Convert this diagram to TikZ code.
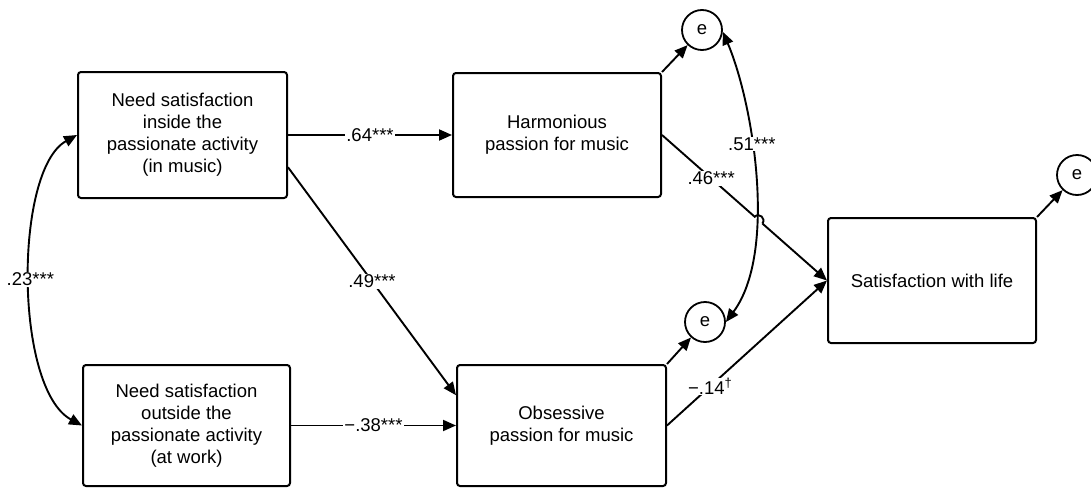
\documentclass[tikz,border=0pt]{standalone}
\usepackage{fontspec}
\setmainfont{Liberation Sans}
\usetikzlibrary{arrows.meta,calc}
\tikzset{
  >={Triangle[length=13pt,width=11pt]},
  varbox/.style={draw, line width=2pt, rounded corners=3pt, align=center, inner sep=0pt},
  errc/.style={draw, circle, line width=1.8pt, minimum size=40pt, inner sep=0pt},
  coef/.style={fill=white, inner sep=1pt},
}
\begin{document}
\begin{tikzpicture}[x=1pt, y=-1pt, line width=1.9pt, font=\fontsize{18.5}{22}\selectfont]
\useasboundingbox (0,0) rectangle (1091,487);
% observed variables
\node[varbox, minimum width=209pt, minimum height=126pt] (inmus) at (182.5,135) {Need satisfaction\\inside the\\passionate activity\\(in music)};
\node[varbox, minimum width=207pt, minimum height=121pt] (atwork) at (186.5,425.5) {Need satisfaction\\outside the\\passionate activity\\(at work)};
\node[varbox, minimum width=208pt, minimum height=124pt] (harm) at (557,135) {Harmonious\\passion for music};
\node[varbox, minimum width=209pt, minimum height=121pt] (obs) at (561.5,425.5) {Obsessive\\passion for music};
\node[varbox, minimum width=208pt, minimum height=125pt] (swl) at (932,280.5) {Satisfaction with life};
% residuals
\node[errc] (eH) at (702,30) {e};
\node[errc] (eO) at (705,322) {e};
\node[errc] (eS) at (1077,175) {e};
% paths
\draw[->] (inmus.east) -- node[coef] {.64***} (harm.west);
\draw[->] (atwork.east) -- node[coef] {\textminus.38***} (obs.west);
\draw[->] (inmus.-17.5) -- node[coef] {.49***} (obs.164);
% jump over the covariance curve
\coordinate (hopA) at ($(harm.east)!0.562!(swl.west)$);
\coordinate (hopB) at ($(harm.east)!0.608!(swl.west)$);
\draw (harm.east) -- node[coef, pos=0.53] {.46***} (hopA) to[out=49, in=49, looseness=1.6] (hopB);
\draw[->] (hopB) -- (swl.west);
\draw[->] (obs.east) -- node[coef, pos=0.27] {\textminus.14\textsuperscript{†}} (swl.west);
\draw[->] (harm.north east) -- (eH);
\draw[->] (obs.north east) -- (eO);
\draw[->] (swl.north east) -- (eS);
% covariances
\draw[<->] (inmus.west) .. controls +(-63,35) and +(-68,-37) .. node[coef] {.23***} (atwork.west);
\draw[<->] (eH.-5) .. controls +(30,70) and +(52,-70) .. node[coef, pos=0.4] {.51***} (eO.east);
\end{tikzpicture}
\end{document}
